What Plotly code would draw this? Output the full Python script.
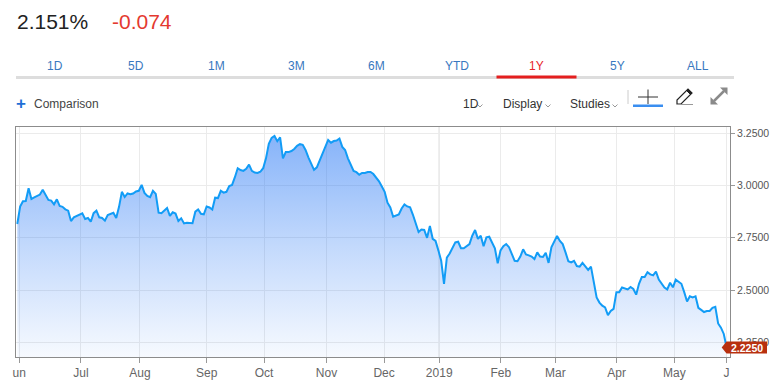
import plotly.graph_objects as go

# ---------------- data ----------------
# 10-year yield, one value per trading session (oldest -> newest)
yield_values = [
    2.816, 2.899, 2.925, 2.926, 2.987, 2.936, 2.943, 2.950, 2.957, 2.980, 2.955, 2.931,
    2.928, 2.910, 2.934, 2.902, 2.898, 2.886, 2.880, 2.830, 2.848, 2.855, 2.862, 2.867,
    2.840, 2.845, 2.827, 2.868, 2.880, 2.848, 2.845, 2.832, 2.859, 2.865, 2.870, 2.845,
    2.898, 2.970, 2.945, 2.962, 2.958, 2.962, 2.972, 2.975, 3.003, 2.965, 2.950, 2.944,
    2.975, 2.960, 2.870, 2.868, 2.880, 2.893, 2.855, 2.872, 2.866, 2.830, 2.843, 2.819,
    2.822, 2.822, 2.820, 2.875, 2.886, 2.865, 2.862, 2.900, 2.895, 2.885, 2.942, 2.940,
    2.975, 2.966, 2.970, 2.998, 3.003, 3.040, 3.083, 3.074, 3.070, 3.080, 3.100, 3.070,
    3.062, 3.060, 3.066, 3.083, 3.130, 3.200, 3.228, 3.237, 3.212, 3.231, 3.130, 3.160,
    3.160, 3.165, 3.175, 3.190, 3.198, 3.195, 3.170, 3.135, 3.100, 3.075, 3.087, 3.120,
    3.155, 3.180, 3.218, 3.205, 3.213, 3.215, 3.225, 3.185, 3.170, 3.130, 3.100, 3.070,
    3.064, 3.052, 3.060, 3.060, 3.065, 3.065, 3.055, 3.038, 3.020, 2.995, 2.970, 2.918,
    2.895, 2.851, 2.855, 2.862, 2.890, 2.910, 2.900, 2.896, 2.860, 2.820, 2.778, 2.790,
    2.788, 2.750, 2.806, 2.745, 2.735, 2.690, 2.640, 2.530, 2.655, 2.675, 2.705, 2.728,
    2.731, 2.700, 2.700, 2.711, 2.720, 2.760, 2.787, 2.745, 2.760, 2.710, 2.752, 2.755,
    2.730, 2.700, 2.628, 2.690, 2.710, 2.720, 2.705, 2.668, 2.640, 2.638, 2.660, 2.695,
    2.670, 2.666, 2.660, 2.648, 2.680, 2.660, 2.658, 2.678, 2.630, 2.705, 2.730, 2.759,
    2.735, 2.720, 2.680, 2.638, 2.632, 2.640, 2.615, 2.612, 2.630, 2.612, 2.596, 2.612,
    2.540, 2.465, 2.440, 2.425, 2.417, 2.380, 2.400, 2.410, 2.490, 2.490, 2.512, 2.507,
    2.503, 2.515, 2.505, 2.478, 2.530, 2.562, 2.562, 2.585, 2.575, 2.570, 2.588, 2.550,
    2.532, 2.512, 2.503, 2.535, 2.513, 2.550, 2.540, 2.530, 2.490, 2.445, 2.470, 2.465,
    2.470, 2.415, 2.405, 2.395, 2.400, 2.400, 2.415, 2.420, 2.340, 2.320, 2.290, 2.225,
]
sessions = list(range(len(yield_values)))

# month boundaries on the session axis
month_tick_sessions = [0.7, 22.5, 43.4, 67.0, 87.3, 109.4, 129.8, 149.3, 171.1, 190.4, 212.1, 232.5, 251.0]
month_tick_labels = ["un", "Jul", "Aug", "Sep", "Oct", "Nov", "Dec", "2019", "Feb", "Mar", "Apr", "May", "J"]
year_tick_session = 149.3

price_ticks = [2.25, 2.50, 2.75, 3.00, 3.25]

quote_last = "2.151%"
quote_change = "-0.074"
range_tabs = ["1D", "5D", "1M", "3M", "6M", "YTD", "1Y", "5Y", "ALL"]
active_tab = "1Y"

# ---------------- layout geometry ----------------
W, H = 779, 386
ML, MR, MT, MB = 16, 49, 127, 29
PW, PH = W - ML - MR, H - MT - MB
Y_MIN, Y_MAX = 2.1797, 3.2801
X_MIN, X_MAX = -0.46, 252.2


def X(px):
    return (px - ML) / PW


def Y(py):
    return (H - MB - py) / PH


FONT = "Liberation Sans, Arial, sans-serif"
LINE = "#129cf6"

fig = go.Figure()
fig.add_trace(go.Scatter(
    x=sessions, y=yield_values, mode="lines",
    line=dict(color=LINE, width=2),
    fill="tozeroy",
    fillgradient=dict(
        type="vertical",
        start=Y_MIN, stop=3.24,
        colorscale=[[0.0, "rgba(40,120,245,0.04)"],
                    [0.5, "rgba(40,120,245,0.28)"],
                    [1.0, "rgba(40,120,245,0.56)"]],
    ),
    hoverinfo="skip", showlegend=False,
))

shapes = []
annotations = []

# darker year boundary line
shapes.append(dict(type="line", xref="x", yref="paper", x0=year_tick_session, x1=year_tick_session,
                   y0=0, y1=1, line=dict(color="#c9c9c9", width=1), layer="below"))

# last value tag
last = yield_values[-1]
yc = H - MB - (last - Y_MIN) / (Y_MAX - Y_MIN) * PH
tag_path = "M {a},{b} L {c},{d} L {e},{d} L {e},{f} L {c},{f} Z".format(
    a=X(721.7), b=Y(yc), c=X(726.5), d=Y(yc - 6), e=X(767), f=Y(yc + 6))
shapes.append(dict(type="path", xref="paper", yref="paper", path=tag_path,
                   fillcolor="#b8300f", line=dict(width=0), layer="above"))
annotations.append(dict(xref="paper", yref="paper", x=X(747), y=Y(yc), text="<b>%.4f</b>" % last,
                        showarrow=False, xanchor="center", yanchor="middle",
                        font=dict(family=FONT, size=10.5, color="white")))

# header quote
annotations.append(dict(xref="paper", yref="paper", x=X(15), y=Y(21), text=quote_last, showarrow=False,
                        xanchor="left", yanchor="middle", font=dict(family=FONT, size=21, color="#222222")))
annotations.append(dict(xref="paper", yref="paper", x=X(110), y=Y(21), text=quote_change, showarrow=False,
                        xanchor="left", yanchor="middle", font=dict(family=FONT, size=21, color="#e4392f")))

# range tabs
tab_centers = [55, 136, 216, 296.5, 376.5, 456.5, 536.5, 617.5, 697.5]
for t, cx in zip(range_tabs, tab_centers):
    annotations.append(dict(xref="paper", yref="paper", x=X(cx), y=Y(66), text=t, showarrow=False,
                            xanchor="center", yanchor="middle",
                            font=dict(family=FONT, size=12,
                                      color="#e8262c" if t == active_tab else "#3878c0")))
shapes.append(dict(type="rect", xref="paper", yref="paper", x0=X(16), x1=X(734), y0=Y(79), y1=Y(76),
                   fillcolor="#dddddd", line=dict(width=0)))
shapes.append(dict(type="rect", xref="paper", yref="paper", x0=X(496.5), x1=X(576.5), y0=Y(78.5), y1=Y(75.5),
                   fillcolor="#e41e1e", line=dict(width=0)))

# toolbar
annotations.append(dict(xref="paper", yref="paper", x=X(20.5), y=Y(103.5), text="<b>+</b>", showarrow=False,
                        xanchor="center", yanchor="middle", font=dict(family=FONT, size=17, color="#1f6fd6")))
annotations.append(dict(xref="paper", yref="paper", x=X(31.5), y=Y(104), text="Comparison", showarrow=False,
                        xanchor="left", yanchor="middle", font=dict(family=FONT, size=12, color="#444444")))
for label, lx, chev in [("1D", 461, 480), ("Display", 501, 548), ("Studies", 568, 615)]:
    annotations.append(dict(xref="paper", yref="paper", x=X(lx), y=Y(104), text=label, showarrow=False,
                            xanchor="left", yanchor="middle", font=dict(family=FONT, size=12, color="#333333")))
    shapes.append(dict(type="path", xref="paper", yref="paper",
                       path="M {a},{b} L {c},{d} L {e},{b}".format(a=X(chev - 2.5), b=Y(104.5), c=X(chev), d=Y(107),
                                                                    e=X(chev + 2.5)),
                       line=dict(color="#999999", width=1)))

# separator
shapes.append(dict(type="line", xref="paper", yref="paper", x0=X(628), x1=X(628), y0=Y(90), y1=Y(104),
                   line=dict(color="#cccccc", width=1)))
# crosshair icon
shapes.append(dict(type="line", xref="paper", yref="paper", x0=X(638), x1=X(658), y0=Y(97), y1=Y(97),
                   line=dict(color="#333333", width=1)))
shapes.append(dict(type="line", xref="paper", yref="paper", x0=X(648), x1=X(648), y0=Y(89.5), y1=Y(104),
                   line=dict(color="#333333", width=1)))
shapes.append(dict(type="rect", xref="paper", yref="paper", x0=X(633), x1=X(663), y0=Y(107), y1=Y(104.5),
                   fillcolor="#3a8ef0", line=dict(width=0)))
# pencil icon
pencil = "M {a},{b} L {a},{c} L {d},{e} L {f},{g} L {h},{b} Z".format(
    a=X(677), b=Y(104), c=Y(100), d=X(688), e=Y(89), f=X(692), g=Y(93), h=X(681))
shapes.append(dict(type="path", xref="paper", yref="paper", path=pencil,
                   line=dict(color="#222222", width=1.2)))
shapes.append(dict(type="path", xref="paper", yref="paper",
                   path="M {a},{b} L {c},{d} L {e},{f} L {g},{h} Z".format(
                       a=X(686.5), b=Y(90.5), c=X(688), d=Y(89), e=X(692), f=Y(93), g=X(690.5), h=Y(94.5)),
                   fillcolor="#222222", line=dict(color="#222222", width=1)))
shapes.append(dict(type="line", xref="paper", yref="paper", x0=X(677), x1=X(693), y0=Y(104.5), y1=Y(104.5),
                   line=dict(color="#999999", width=1)))
# expand icon
shapes.append(dict(type="line", xref="paper", yref="paper", x0=X(714), x1=X(724), y0=Y(101), y1=Y(91),
                   line=dict(color="#8a8a8a", width=2.5)))
shapes.append(dict(type="path", xref="paper", yref="paper",
                   path="M {a},{b} L {c},{b} L {a},{d} Z".format(a=X(727.5), b=Y(87.5), c=X(720), d=Y(95)),
                   fillcolor="#8a8a8a", line=dict(width=0)))
shapes.append(dict(type="path", xref="paper", yref="paper",
                   path="M {a},{b} L {c},{b} L {a},{d} Z".format(a=X(710.5), b=Y(104.5), c=X(718), d=Y(97)),
                   fillcolor="#8a8a8a", line=dict(width=0)))

fig.update_layout(
    width=W, height=H,
    margin=dict(l=ML, r=MR, t=MT, b=MB, pad=0),
    paper_bgcolor="white", plot_bgcolor="white",
    shapes=shapes, annotations=annotations,
    font=dict(family=FONT),
    hovermode=False,
    xaxis=dict(
        range=[X_MIN, X_MAX], tickmode="array", tickvals=month_tick_sessions, ticktext=month_tick_labels,
        showgrid=True, gridcolor="#ebebeb", gridwidth=1, zeroline=False,
        showline=True, linecolor="#8c8c8c", linewidth=1, mirror=True,
        ticks="outside", ticklen=5, tickcolor="#999999",
        tickfont=dict(family=FONT, size=12, color="#666666"), automargin=False,
    ),
    yaxis=dict(
        range=[Y_MIN, Y_MAX], side="right", tickmode="array", tickvals=price_ticks,
        tickformat=".4f",
        showgrid=True, gridcolor="#ebebeb", gridwidth=1, zeroline=False,
        showline=True, linecolor="#8c8c8c", linewidth=1, mirror=True,
        ticks="outside", ticklen=4, tickcolor="#999999",
        tickfont=dict(family=FONT, size=10.5, color="#555555"), automargin=False,
    ),
)

fig.write_html(
    "out.html",
    config={"displayModeBar": False},
    post_script="document.body.style.margin='0';document.body.style.padding='0';"
                "document.body.style.overflow='hidden';",
)
